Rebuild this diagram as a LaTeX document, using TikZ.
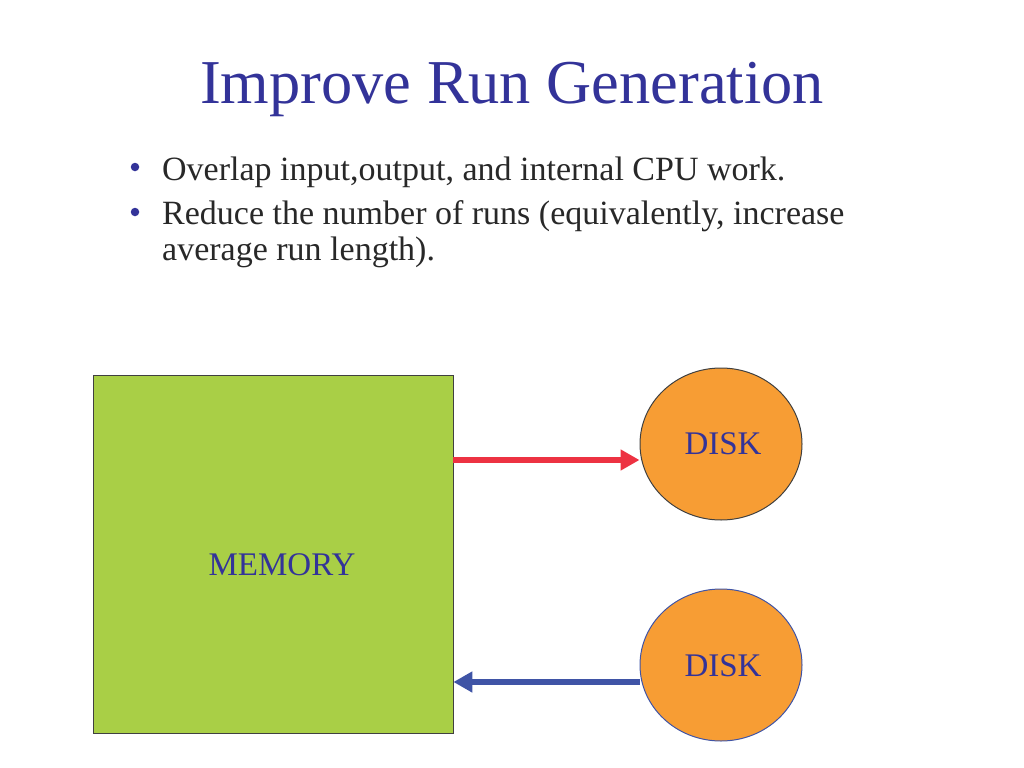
\documentclass[tikz,border=0pt]{standalone}
\usepackage{fontspec}
\setmainfont{Liberation Serif}
\usetikzlibrary{shapes.geometric,arrows.meta}
\definecolor{titleblue}{RGB}{51,51,153}
\definecolor{memgreen}{RGB}{169,207,70}
\definecolor{diskorange}{RGB}{247,157,52}
\definecolor{outred}{RGB}{237,50,66}
\definecolor{inblue}{RGB}{63,84,166}
\definecolor{bodytext}{RGB}{40,40,40}
\begin{document}
\begin{tikzpicture}[x=1bp,y=-1bp,
  title/.style={font=\fontsize{62.4bp}{70bp}\selectfont, text=titleblue, inner sep=0pt, anchor=base},
  bullettext/.style={font=\fontsize{34bp}{36bp}\selectfont, text=bodytext, inner sep=0pt, anchor=base west},
  bulletdot/.style={circle, fill=titleblue, inner sep=0pt, minimum size=8.5bp},
  membox/.style={draw=black!75, line width=0.8bp, fill=memgreen, minimum width=360bp, minimum height=358bp, inner sep=0pt},
  disk/.style={ellipse, fill=diskorange, line width=1bp, minimum width=162bp, minimum height=152bp, inner sep=0pt,
    font=\fontsize{33bp}{36bp}\selectfont, text=titleblue, text depth=0pt},
  flow/.style={line width=5.5bp, -{Triangle[length=19bp,width=20bp]}}
]
\useasboundingbox (0,0) rectangle (1024,768);

% heading
\node[title] (head) at (512,103) {Improve Run Generation};

% bullet list
\node[bulletdot] (b1) at (135,167) {};
\node[bullettext] (t1) at (162,180) {Overlap input,output, and internal CPU work.};
\node[bulletdot] (b2) at (135,212) {};
\node[bullettext] (t2) at (162,224) {Reduce the number of runs (equivalently, increase};
\node[bullettext] (t3) at (162,260) {average run length).};

% memory and the two disks
\node[membox] (mem) at (273,554) {};
\node[text=titleblue, font=\fontsize{33bp}{36bp}\selectfont, inner sep=0pt] (memlabel) at (282,565) {MEMORY};
\node[disk, draw=black!75] (diskout) at (721,444) {};
\node[text=titleblue, font=\fontsize{33bp}{36bp}\selectfont, inner sep=0pt] (diskoutlabel) at (723,444) {DISK};
\node[disk, draw=inblue] (diskin) at (721,665) {};
\node[text=titleblue, font=\fontsize{33bp}{36bp}\selectfont, inner sep=0pt] (diskinlabel) at (723,666) {DISK};

% data flows
\coordinate (outstart) at (mem.east |- 0,460);
\coordinate (outend) at (diskout.west |- 0,460);
\draw[flow, outred] (outstart) -- (outend);
\coordinate (instart) at (diskin.west |- 0,682);
\coordinate (inend) at (mem.east |- 0,682);
\draw[flow, inblue] (instart) -- (inend);
\end{tikzpicture}
\end{document}
